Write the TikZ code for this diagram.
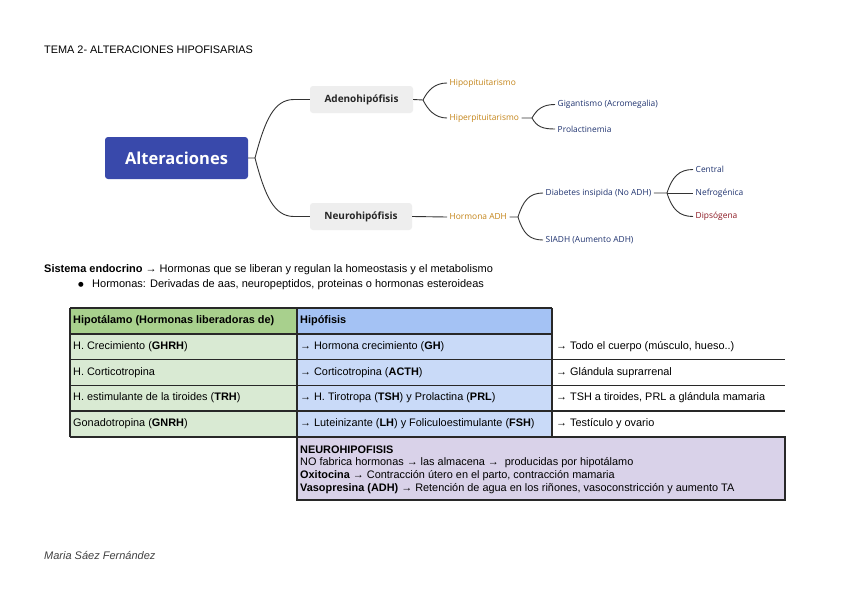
\documentclass[tikz,border=0pt]{standalone}
\usepackage{fontspec}
\setmainfont{Liberation Sans}
\newfontfamily\mapfont{Open Sans}
\newfontfamily\symfont{DejaVu Sans}
\definecolor{altblue}{RGB}{57,73,171}
\definecolor{topicgray}{RGB}{238,238,238}
\definecolor{maporange}{RGB}{196,132,24}
\definecolor{mapnavy}{RGB}{32,52,112}
\definecolor{mapred}{RGB}{140,24,34}
\definecolor{hgreen}{RGB}{168,208,141}
\definecolor{lgreen}{RGB}{217,234,211}
\definecolor{hblue}{RGB}{164,194,244}
\definecolor{lblue}{RGB}{201,218,248}
\definecolor{lav}{RGB}{217,210,233}
\definecolor{tline}{RGB}{40,40,40}
\begin{document}
\begin{tikzpicture}[x=1pt,y=-1pt,
  mapline/.style={draw=black!80, line width=0.9pt},
  altbox/.style={fill=altblue, text=white, rounded corners=3pt, minimum width=143pt, minimum height=42pt, inner sep=0pt, font=\mapfont\bfseries\fontsize{16.5}{18}\selectfont},
  subbox/.style={fill=topicgray, text=black!85, rounded corners=3pt, minimum height=27pt, inner sep=0pt, font=\mapfont\bfseries\fontsize{10}{11}\selectfont},
  lbl/.style={anchor=west, inner xsep=2.5pt, inner ysep=1pt, font=\mapfont\fontsize{8.4}{9}\selectfont},
  tbl/.style={draw=tline, line width=1.1pt},
  ttext/.style={anchor=west, inner sep=0pt, font=\fontsize{10.9}{12}\selectfont},
  btext/.style={anchor=west, inner sep=0pt, font=\fontsize{11}{12}\selectfont},
]
\useasboundingbox (0,0) rectangle (848,600);
\fill[white] (0,0) rectangle (848,600);

% title
\node[btext, font=\fontsize{10.9}{12}\selectfont] (title) at (44,50) {TEMA 2- ALTERACIONES HIPOFISARIAS};

% mind map
\node[altbox] (alt) at (176.5,158) {Alteraciones};
\node[subbox, minimum width=103pt] (adeno) at (361.5,99.5) {Adenohipófisis};
\node[subbox, minimum width=102pt] (neuro) at (361,216.5) {Neurohipófisis};

\coordinate (j0) at (255,158);
\coordinate (a0) at (294,99.5);
\coordinate (n0) at (294,216.5);
\draw[mapline] (alt.east) -- (j0) .. controls +(10,-38) and +(-20,0) .. (a0) -- (adeno.west);
\draw[mapline] (j0) .. controls +(10,38) and +(-20,0) .. (n0) -- (neuro.west);

\node[lbl, text=maporange] (hipo) at (447,83) {Hipopituitarismo};
\node[lbl, text=maporange] (hiper) at (447,118) {Hiperpituitarismo};
\coordinate (j1) at (423,100);
\draw[mapline] (adeno.east) -- (j1) .. controls +(5,-10) and +(-12,0) .. (hipo.west);
\draw[mapline] (j1) .. controls +(5,10) and +(-12,0) .. (hiper.west);

\node[lbl, text=mapnavy] (gig) at (555,104.5) {Gigantismo (Acromegalia)};
\node[lbl, text=mapnavy] (prol) at (555,129) {Prolactinemia};
\coordinate (j2) at (532,118);
\draw[mapline] (hiper.east) -- (j2) .. controls +(5,-9) and +(-12,0) .. (gig.west);
\draw[mapline] (j2) .. controls +(5,9) and +(-12,0) .. (prol.west);

\node[lbl, text=maporange] (adh) at (447,217) {Hormona ADH};
\draw[mapline] (neuro.east) -- (adh.west);
\node[lbl, text=mapnavy] (diab) at (543,193) {Diabetes insipida (No ADH)};
\node[lbl, text=mapnavy] (siadh) at (543,240) {SIADH (Aumento ADH)};
\coordinate (j3) at (518,217);
\draw[mapline] (adh.east) -- (j3) .. controls +(5,-16) and +(-14,0) .. (diab.west);
\draw[mapline] (j3) .. controls +(5,16) and +(-14,0) .. (siadh.west);

\node[lbl, text=mapnavy] (cent) at (693,169.5) {Central};
\node[lbl, text=mapnavy] (nefro) at (693,193) {Nefrogénica};
\node[lbl, text=mapred] (dips) at (693,216.5) {Dipsógena};
\coordinate (j4) at (667,193);
\draw[mapline] (diab.east) -- (j4) .. controls +(5,-16) and +(-14,0) .. (cent.west);
\draw[mapline] (j4) -- (nefro.west);
\draw[mapline] (j4) .. controls +(5,16) and +(-14,0) .. (dips.west);

% body text
\node[btext] (sis) at (44,270) {\textbf{Sistema endocrino} → Hormonas que se liberan y regulan la homeostasis y el metabolismo};
\node[btext, font=\symfont\fontsize{6.5}{7}\selectfont] (bul) at (78,285) {●};
\node[btext] (horm) at (92,285) {Hormonas: Derivadas de aas, neuropeptidos, proteinas o hormonas esteroideas};

% table fills
\fill[hgreen] (70,308) rectangle (297,334);
\fill[lgreen] (70,334) rectangle (297,437);
\fill[hblue] (297,308) rectangle (552,334);
\fill[lblue] (297,334) rectangle (552,437);
\fill[lav] (297,437) rectangle (785,500);
% grid
\foreach \yy in {308,334,359.5,385.5,411}
  \draw[tbl] (70,\yy) -- (552,\yy);
\draw[tbl] (70,437) -- (785,437);
\foreach \xx in {70,297,552}
  \draw[tbl] (\xx,308) -- (\xx,437);
\foreach \yy in {359.5,385.5,411}
  \draw[tbl] (552,\yy) -- (785,\yy);
\draw[tbl] (297,437) rectangle (785,500);

% table text
\node[ttext] (h1) at (73,321) {\textbf{Hipotálamo (Hormonas liberadoras de)}};
\node[ttext] (h2) at (300,321) {\textbf{Hipófisis}};
\node[ttext] (r1a) at (73,347) {H. Crecimiento (\textbf{GHRH})};
\node[ttext] (r2a) at (73,372.5) {H. Corticotropina};
\node[ttext] (r3a) at (73,398) {H. estimulante de la tiroides (\textbf{TRH})};
\node[ttext] (r4a) at (73,424) {Gonadotropina (\textbf{GNRH})};
\node[ttext] (r1b) at (300,347) {→ Hormona crecimiento (\textbf{GH})};
\node[ttext] (r2b) at (300,372.5) {→ Corticotropina (\textbf{ACTH})};
\node[ttext] (r3b) at (300,398) {→ H. Tirotropa (\textbf{TSH}) y Prolactina (\textbf{PRL})};
\node[ttext] (r4b) at (300,424) {→ Luteinizante (\textbf{LH}) y Foliculoestimulante (\textbf{FSH})};
\node[ttext] (r1c) at (556,347) {→ Todo el cuerpo (músculo, hueso..)};
\node[ttext] (r2c) at (556,372.5) {→ Glándula suprarrenal};
\node[ttext] (r3c) at (556,398) {→ TSH a tiroides, PRL a glándula mamaria};
\node[ttext] (r4c) at (556,424) {→ Testículo y ovario};

\node[ttext] (n1) at (300,450) {\textbf{NEUROHIPOFISIS}};
\node[ttext] (n2) at (300,463) {NO fabrica hormonas → las almacena →\ \ producidas por hipotálamo};
\node[ttext] (n3) at (300,476) {\textbf{Oxitocina} → Contracción útero en el parto, contracción mamaria};
\node[ttext] (n4) at (300,489) {\textbf{Vasopresina (ADH)} → Retención de agua en los riñones, vasoconstricción y aumento TA};

% footer
\node[btext, font=\itshape\fontsize{11}{12}\selectfont, text=black!75] (foot) at (44,555) {Maria Sáez Fernández};
\end{tikzpicture}
\end{document}
